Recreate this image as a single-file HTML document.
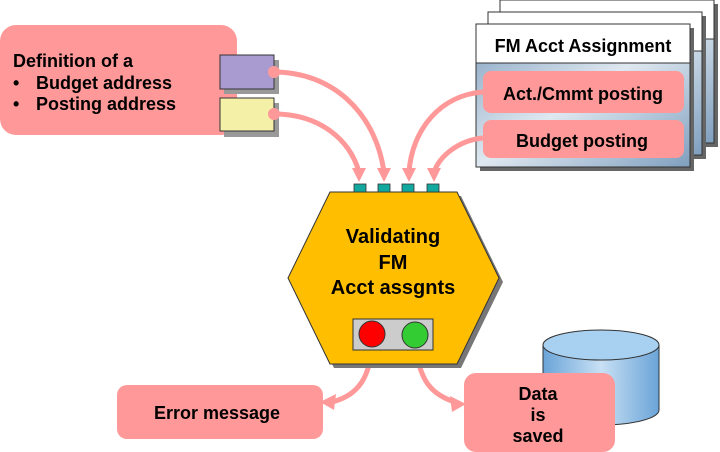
<!DOCTYPE html>
<html><head><style>
body{margin:0;width:720px;height:452px;background:#fff;overflow:hidden;position:relative;font-family:"Liberation Sans",sans-serif;font-weight:bold;color:#000}
.a{position:absolute}
</style></head><body>
<svg class="a" style="left:0;top:0" width="720" height="452">
<defs>
<linearGradient id="pg" x1="0" y1="0" x2="1" y2="1"><stop offset="0" stop-color="#7f9fbf"/><stop offset=".5" stop-color="#dfe8f0"/><stop offset="1" stop-color="#7f9fbf"/></linearGradient>
<linearGradient id="cy" x1="0" x2="1"><stop offset="0" stop-color="#6aa4d8"/><stop offset=".5" stop-color="#c8e0f4"/><stop offset="1" stop-color="#6aa4d8"/></linearGradient>
</defs>
<rect x="0" y="25" width="237" height="110" rx="16" fill="#ff9999"/>
<rect x="224" y="60" width="55" height="34" fill="#999"/>
<rect x="220" y="55" width="54" height="34" fill="#a99ad0" stroke="#333"/>
<rect x="224" y="103" width="55" height="34" fill="#999"/>
<rect x="220" y="98" width="54" height="33" fill="#f4f0a8" stroke="#333"/>
<rect x="504" y="4" width="214" height="143" fill="#666"/>
<rect x="500" y="0" width="214" height="143" fill="url(#pg)" stroke="#333"/>
<rect x="500" y="0" width="214" height="39" fill="#fff" stroke="#333"/>
<rect x="492" y="16" width="214" height="143" fill="#666"/>
<rect x="488" y="12" width="214" height="143" fill="url(#pg)" stroke="#333"/>
<rect x="488" y="12" width="214" height="39" fill="#fff" stroke="#333"/>
<rect x="480" y="28" width="214" height="143" fill="#666"/>
<rect x="476" y="24" width="214" height="143" fill="url(#pg)" stroke="#333"/>
<rect x="476" y="24" width="214" height="39" fill="#fff" stroke="#333"/>
<rect x="483" y="71" width="201" height="42" rx="8" fill="#ff9999"/>
<rect x="483" y="120" width="201" height="38" rx="8" fill="#ff9999"/>
<g fill="none" stroke="#ff9999" stroke-width="5">
<path d="M274 72 C330 72 375 110 384 172"/>
<path d="M274 114 C320 114 350 140 359 172"/>
<path d="M483 92 C440 95 412 130 409 172"/>
<path d="M483 138 C460 140 440 155 434 172"/>
<path d="M372 345 C370 375 360 395 332 402"/>
<path d="M415 345 C420 380 430 395 458 403"/>
</g>
<g fill="#ff9999">
<circle cx="274" cy="72" r="6"/><circle cx="274" cy="114" r="6"/>
<polygon points="352,168 366,168 359,182"/><polygon points="377,168 391,168 384,182"/>
<polygon points="402,168 416,168 409,182"/><polygon points="427,168 441,168 434,182"/>
<polygon points="320,402 336,394 334,410"/><polygon points="466,404 450,396 452,412"/>
</g>
<polygon points="334,196 461,196 503,282 461,368 334,368 292,282" fill="#777"/>
<polygon points="330,192 457,192 499,278 457,364 330,364 288,278" fill="#ffbf00" stroke="#333"/>
<g fill="#13a89e" stroke="#333" stroke-width=".8">
<rect x="354" y="184" width="12" height="8"/><rect x="378" y="184" width="12" height="8"/>
<rect x="402" y="184" width="12" height="8"/><rect x="427" y="184" width="12" height="8"/>
</g>
<rect x="353" y="319" width="80" height="31" fill="#ccc" stroke="#333"/>
<circle cx="372" cy="334" r="13" fill="#f00" stroke="#333"/>
<circle cx="415" cy="335" r="13" fill="#33cc33" stroke="#333"/>
<path d="M543 345 L543 410 A58 15 0 0 0 659 410 L659 345" fill="url(#cy)" stroke="#333"/>
<ellipse cx="601" cy="345" rx="58" ry="15" fill="#a8d0f0" stroke="#333"/>
<rect x="117" y="385" width="206" height="54" rx="10" fill="#ff9999"/>
<rect x="464" y="373" width="151" height="79" rx="12" fill="#ff9999"/>
<g font-family="Liberation Sans, sans-serif" font-weight="bold" font-size="18">
<text x="13" y="67">Definition of a</text>
<text x="13" y="89">•</text><text x="36" y="89">Budget address</text>
<text x="13" y="110">•</text><text x="36" y="110">Posting address</text>
<text x="583" y="52" text-anchor="middle">FM Acct Assignment</text>
<text x="583" y="100" text-anchor="middle">Act./Cmmt posting</text>
<text x="582" y="147" text-anchor="middle">Budget posting</text>
<text x="217" y="419" text-anchor="middle">Error message</text>
<text x="538" y="400" text-anchor="middle">Data</text>
<text x="538" y="421" text-anchor="middle">is</text>
<text x="538" y="442" text-anchor="middle">saved</text>
<g font-size="20" text-anchor="middle"><text x="393" y="243">Validating</text><text x="393" y="269">FM</text><text x="393" y="294">Acct assgnts</text></g>
</g>
</svg>
</body></html>
